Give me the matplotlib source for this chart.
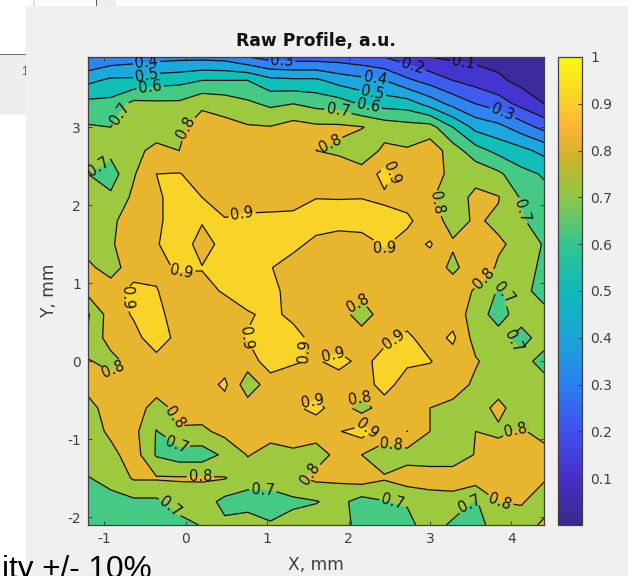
import matplotlib
matplotlib.use("Agg")
import matplotlib.pyplot as plt
import numpy as np
from matplotlib.cm import ScalarMappable
from matplotlib.colors import BoundaryNorm, LinearSegmentedColormap, ListedColormap, Normalize
from matplotlib.patches import Rectangle

plt.rcParams["font.family"] = ["DejaVu Sans"]
plt.rcParams["axes.unicode_minus"] = False

W, H = 628, 576

x_mm = [-1.2 + 0.28 * i for i in range(21)]
y_mm = [3.9 - 0.3 * i for i in range(21)]

# rows run top to bottom of the picture
profile = [
    [.29, .33, .35, .36, .37, .37, .36, .30, .26, .25, .25, .25, .23, .20, .14, .10, .08, .07, .06, .05, .05],
    [.475, .52, .52, .56, .57, .60, .60, .60, .53, .52, .52, .46, .43, .40, .32, .26, .20, .16, .12, .07, .06],
    [.63, .63, .73, .72, .72, .78, .76, .72, .68, .70, .67, .65, .59, .56, .55, .46, .37, .30, .25, .17, .10],
    [.71, .70, .75, .76, .78, .85, .83, .81, .805, .84, .82, .82, .805, .76, .74, .74, .60, .47, .43, .35, .27],
    [.75, .73, .78, .82, .80, .86, .85, .85, .85, .85, .80, .78, .74, .82, .81, .86, .75, .64, .57, .53, .47],
    [.70, .65, .79, .90, .905, .86, .85, .85, .86, .85, .86, .87, .84, .93, .85, .85, .77, .77, .72, .63, .59],
    [.75, .72, .82, .88, .95, .90, .87, .86, .85, .86, .897, .897, .897, .885, .86, .81, .76, .82, .805, .69, .63],
    [.75, .78, .85, .88, .95, .91, .905, .92, .93, .93, .95, .93, .95, .93, .92, .84, .77, .81, .785, .71, .66],
    [.76, .79, .85, .89, .97, .85, .94, .95, .95, .93, .87, .86, .85, .91, .86, .91, .81, .85, .81, .78, .69],
    [.82, .76, .85, .88, .91, .905, .95, .95, .905, .85, .85, .85, .85, .85, .85, .85, .78, .85, .79, .76, .67],
    [.83, .85, .93, .905, .85, .87, .91, .95, .93, .86, .85, .85, .83, .85, .85, .85, .85, .79, .69, .74, .65],
    [.69, .85, .91, .93, .85, .85, .85, .89, .92, .88, .85, .85, .75, .85, .85, .85, .85, .76, .65, .76, .74],
    [.71, .85, .87, .95, .87, .85, .85, .905, .95, .93, .87, .85, .85, .88, .92, .85, .92, .76, .75, .65, .76],
    [.81, .76, .85, .87, .85, .85, .85, .85, .95, .91, .89, .93, .875, .93, .92, .905, .85, .81, .75, .75, .65],
    [.83, .85, .85, .85, .85, .85, .92, .74, .85, .85, .85, .85, .85, .94, .85, .85, .85, .78, .75, .75, .75],
    [.77, .84, .85, .76, .83, .85, .85, .85, .85, .88, .93, .85, .76, .85, .85, .80, .77, .75, .83, .74, .74],
    [.75, .82, .83, .695, .79, .78, .83, .85, .83, .85, .83, .895, .94, .85, .901, .80, .75, .80, .78, .81, .77],
    [.75, .77, .85, .69, .65, .65, .72, .805, .77, .78, .77, .82, .80, .75, .76, .75, .75, .805, .85, .85, .83],
    [.695, .73, .81, .81, .81, .81, .805, .75, .75, .78, .82, .82, .85, .81, .85, .85, .85, .85, .85, .85, .81],
    [.65, .67, .68, .68, .74, .75, .67, .65, .65, .68, .695, .73, .66, .695, .71, .75, .76, .69, .80, .81, .75],
    [.65, .65, .65, .65, .67, .705, .72, .76, .71, .74, .75, .76, .65, .65, .67, .75, .68, .66, .75, .75, .82],
]

levels = [0, .1, .2, .3, .4, .5, .6, .7, .8, .9, 1.0]
band_colors = ["#3D2A9D", "#4535D0", "#3F5CF0", "#2E84F0", "#1AA8DE", "#10BFB8",
               "#45CA85", "#9DC93E", "#E8B52F", "#F9D328"]
bar_stops = [(0, "#3A2A8C"), (.1, "#4630C8"), (.2, "#4050F0"), (.3, "#2A80F0"), (.4, "#1AA5D8"),
             (.5, "#0FB9B8"), (.6, "#35C490"), (.7, "#8CC848"), (.78, "#C8B42A"), (.85, "#FDB438"),
             (.9, "#FCCB2A"), (1, "#F8FA0F")]

x_ticks = [-1, 0, 1, 2, 3, 4]
y_ticks = [-2, -1, 0, 1, 2, 3]
bar_ticks = [.1, .2, .3, .4, .5, .6, .7, .8, .9, 1]
bar_labels = ["0.1", "0.2", "0.3", "0.4", "0.5", "0.6", "0.7", "0.8", "0.9", "1"]

label_spots = {
    .1: [(3.405, 3.785)],
    .2: [(2.79, 3.80)],
    .3: [(1.18, 3.84), (3.88, 3.16)],
    .4: [(-.475, 3.78), (2.32, 3.6)],
    .5: [(-.475, 3.64), (2.29, 3.41)],
    .6: [(-.44, 3.52), (2.24, 3.26)],
    .7: [(-.81, 3.18), (-1.05, 2.45), (1.87, 3.21), (4.06, 1.9), (3.86, .86), (4.04, .26),
         (-.13, -1.1), (-.16, -1.83), (.95, -1.68), (2.51, -1.9), (3.53, -1.88)],
    .8: [(-.02, 3.0), (1.75, 2.84), (3.09, 2.03), (3.65, 1.07), (1.87, .94), (-.89, -.1),
         (-.13, -.73), (.18, -1.5), (1.5, -1.41), (2.13, -.47), (2.52, -1.1), (4.04, -.86), (3.86, -1.79)],
    .9: [(.69, 1.9), (-.05, 1.14), (-.73, .81), (.67, .3), (1.46, .13), (2.41, 1.39), (2.53, 2.41),
         (2.57, .26), (1.83, .04), (1.55, -.51), (2.23, -.87)],
}

TICK_GREY = "#404040"


def px_axes(fig, left, top, right, bottom):
    return fig.add_axes([left / W, 1 - bottom / H, (right - left) / W, (bottom - top) / H])


def px_rect(fig, left, top, right, bottom, color, zorder):
    fig.add_artist(Rectangle((left / W, 1 - bottom / H), (right - left) / W, (bottom - top) / H,
                             transform=fig.transFigure, color=color, lw=0, zorder=zorder))


fig = plt.figure(figsize=(W / 100, H / 100), dpi=100, facecolor="white")

# bits of the other windows behind the figure
px_rect(fig, 0, 55, 26, 115, "#EEEEEE", -5)
px_rect(fig, 0, 54, 26, 55, "#707070", -5)
px_rect(fig, 33, 0, 35, 6, "#DDDDDD", -5)
px_rect(fig, 97, 0, 116, 6, "#EEEEEE", -5)
px_rect(fig, 96, 0, 97, 6, "#606060", -5)
fig.text(21 / W, 1 - 72 / H, "1", fontsize=9, color="#555555", va="center", zorder=-4,
         family=["Liberation Sans"])
px_rect(fig, 26, 6, W, H, "#F0F0F0", -3)
fig.text(2 / W, 1 - 578 / H, "ity +/- 10%", fontsize=22.7, color="black", va="baseline",
         family=["Liberation Sans"])

ax = px_axes(fig, 88, 57, 544, 525)
X, Y = np.meshgrid(x_mm, y_mm)
Z = np.array(profile)
ax.contourf(X, Y, Z, levels=levels, cmap=ListedColormap(band_colors),
            norm=BoundaryNorm(levels, len(band_colors)))
for level in levels[1:-1]:
    cs = ax.contour(X, Y, Z, levels=[level], colors="#111111", linewidths=0.9)
    ax.clabel(cs, manual=label_spots[level], fmt="%g", fontsize=10.5, inline=True, inline_spacing=2,
              colors="#111111")

ax.set_xlim(x_mm[0], x_mm[-1])
ax.set_ylim(y_mm[-1], y_mm[0])
ax.set_xticks(x_ticks)
ax.set_yticks(y_ticks)
ax.tick_params(direction="in", top=True, right=True, length=3, width=0.7, color=TICK_GREY,
               labelcolor=TICK_GREY, labelsize=10, pad=5)
for spine in ax.spines.values():
    spine.set_color(TICK_GREY)
    spine.set_linewidth(0.9)
ax.set_title("Raw Profile, a.u.", fontsize=12.3, fontweight="bold", color="#111111", pad=8)
ax.set_xlabel("X, mm", fontsize=12.3, color=TICK_GREY, labelpad=7)
ax.set_ylabel("Y, mm", fontsize=12.3, color=TICK_GREY, labelpad=7)

cax = px_axes(fig, 558, 57, 582, 525)
bar_cmap = LinearSegmentedColormap.from_list("parula_like", bar_stops, N=256)
cbar = fig.colorbar(ScalarMappable(Normalize(0, 1), bar_cmap), cax=cax)
cbar.set_ticks(bar_ticks, labels=bar_labels)
cax.tick_params(direction="in", length=3, width=0.8, color=TICK_GREY, labelcolor=TICK_GREY,
                labelsize=10, pad=6)
cbar.outline.set_edgecolor(TICK_GREY)
cbar.outline.set_linewidth(0.9)

fig.savefig("out.png", dpi=100)
